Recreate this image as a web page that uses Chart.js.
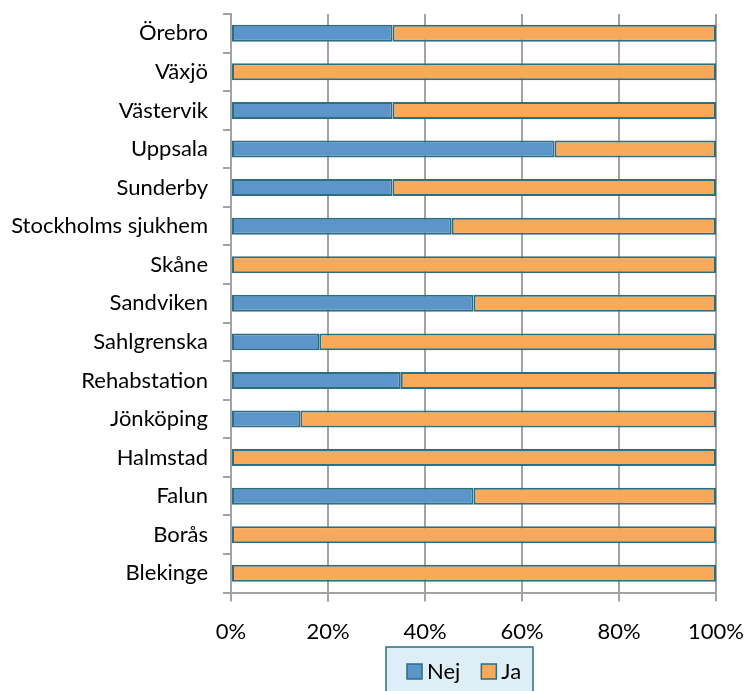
<!DOCTYPE html>
<html>
<head>
<meta charset="utf-8">
<script src="https://cdn.jsdelivr.net/npm/chart.js@4"></script>
<style>
  html, body { margin: 0; padding: 0; background: #fff; }
  #wrap { width: 750px; height: 691px; }
</style>
</head>
<body>
<div id="wrap"><canvas id="chart" width="750" height="691"></canvas></div>
<script>
"use strict";

// data (percent of answers)
const sites = ["Örebro", "Växjö", "Västervik", "Uppsala", "Sunderby", "Stockholms sjukhem", "Skåne",
  "Sandviken", "Sahlgrenska", "Rehabstation", "Jönköping", "Halmstad", "Falun", "Borås", "Blekinge"];
const nejValues = [33.3, 0, 33.3, 66.7, 33.3, 45.5, 0, 50, 18.2, 35, 14.3, 0, 50, 0, 0];
const jaValues = [66.7, 100, 66.7, 33.3, 66.7, 54.5, 100, 50, 81.8, 65, 85.7, 100, 50, 100, 100];
const xTicks = [0, 20, 40, 60, 80, 100];

const fontFamily = "Lato, 'Open Sans', sans-serif";
const edge = "#2d6e80";
const gridGray = "#a3a3a3";

// legend in a framed box under the axis, like the original
const boxLegend = {
  id: "boxLegend",
  afterDraw(chart) {
    const ctx = chart.ctx;
    const left = 386, top = 647, w = 147, h = 50;
    ctx.save();
    ctx.fillStyle = "#ddeef6";
    ctx.fillRect(left, top, w, h);
    ctx.strokeStyle = edge;
    ctx.lineWidth = 1.5;
    ctx.strokeRect(left, top, w, h);
    ctx.font = "22px " + fontFamily;
    ctx.textBaseline = "middle";
    let x = left + 21;
    const y = 672;
    chart.data.datasets.forEach(ds => {
      ctx.fillStyle = ds.backgroundColor;
      ctx.fillRect(x, y - 8, 15, 15);
      ctx.strokeStyle = edge;
      ctx.lineWidth = 1.5;
      ctx.strokeRect(x, y - 8, 15, 15);
      ctx.fillStyle = "#000";
      ctx.fillText(ds.label, x + 20, y);
      x += 20 + ctx.measureText(ds.label).width + 21;
    });
    ctx.restore();
  }
};

const config = {
  type: "bar",
  data: {
    labels: sites,
    datasets: [
      {
        label: "Nej",
        data: nejValues,
        backgroundColor: "#5b95ca",
        borderColor: edge,
        borderWidth: 2,
        borderSkipped: false,
        barPercentage: 0.44,
        categoryPercentage: 1
      },
      {
        label: "Ja",
        data: jaValues,
        backgroundColor: "#f9a95a",
        borderColor: edge,
        borderWidth: 2,
        borderSkipped: false,
        barPercentage: 0.44,
        categoryPercentage: 1
      }
    ]
  },
  options: {
    indexAxis: "y",
    responsive: false,
    animation: false,
    layout: { padding: { top: 0, right: 0, bottom: 29, left: 0 } },
    plugins: {
      legend: { display: false },
      tooltip: { enabled: false }
    },
    scales: {
      x: {
        stacked: true,
        min: 0,
        max: 100,
        afterBuildTicks(scale) {
          scale.ticks = xTicks.map(v => ({ value: v }));
        },
        afterFit(scale) {
          scale.paddingRight = 34;
          scale.paddingLeft = 0;
        },
        ticks: {
          callback: v => v + "%",
          color: "#000",
          padding: 17,
          font: { family: fontFamily, size: 22 }
        },
        grid: { color: gridGray, lineWidth: 2, tickLength: 9 },
        border: { color: gridGray, width: 2 }
      },
      y: {
        stacked: true,
        afterFit(scale) {
          scale.width = 231;
          scale.paddingTop = 14;
          scale.paddingBottom = 0;
        },
        ticks: {
          color: "#000",
          padding: 15,
          font: { family: fontFamily, size: 22 }
        },
        grid: { drawOnChartArea: false, color: gridGray, lineWidth: 2, tickLength: 8, offset: true },
        border: { color: gridGray, width: 2 }
      }
    }
  },
  plugins: [boxLegend]
};

const myChart = new Chart(document.getElementById("chart"), config);
</script>
</body>
</html>
